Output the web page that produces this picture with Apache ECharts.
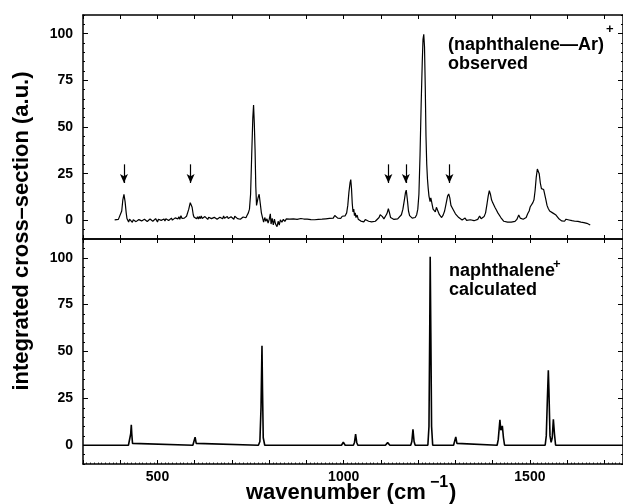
<!DOCTYPE html>
<html>
<head>
<meta charset="utf-8">
<script src="https://cdn.jsdelivr.net/npm/echarts@6/dist/echarts.min.js"></script>
<style>
html,body{margin:0;padding:0;background:#fff;}
#chart{width:623px;height:504px;}
</style>
</head>
<body>
<div id="chart"></div>
<script>
// ---- data ----
const xTickLabels = [500, 1000, 1500];
const yTickLabels = [0, 25, 50, 75, 100];
const arrowPositions = [410, 589, 1120, 1167, 1284];
const arrowFromTo = [30, 20];

// observed (naphthalene-Ar)+ spectrum: [wavenumber, intensity]
const observedSpectrum = [
[385,0.2],[390,-0.3],[395,0.5],[400,1.5],[404,5],[407,11],[410,13.9],[413,10],[416,4],[418,1],
[420,0.2],[422.5,-0.9],[425,0.6],[427.5,-0.4],[430,0.5],[432.5,-1.1],[435,0.3],[437.5,-0.5],[440,0.8],[442.5,-0.7],
[445,0.2],[447.5,-1],[450,0.4],[452.5,-0.6],[455,0.9],[457.5,-0.3],[460,0.5],[462.5,-0.8],[465,0.6],[467.5,-0.2],
[470,0.9],[472.5,-0.6],[475,0.3],[477.5,-0.9],[480,0.7],[482.5,-0.1],[485,0.8],[487.5,-0.5],[490,0.4],[492.5,-0.7],
[495,0.9],[497.5,0],[500,-0.9],[502.5,0.6],[505,-0.3],[507.5,0.9],[510,0],[512.5,1],[515,-0.2],[517.5,0.7],
[520,-0.4],[522.5,0.8],[525,0.1],[527.5,1.1],[530,-0.1],[532.5,0.9],[535,0.3],[537.5,1.2],[540,0.1],[542.5,0.9],
[545,0.4],[547.5,1.3],[550,0.3],[552.5,1.6],[555,0.8],[557.5,1.9],[560,0.6],[563,2.5],[566,1],[569,0.7],
[572,1.2],[575,1.9],[578,2.2],[581,3.2],[584,6],[588,9.5],[590,10],[593,7],[596,3],[598,1.8],
[600,1.5],[602.5,2.6],[605,0.8],[607.5,1.9],[610,0.7],[612.5,2.1],[615,0.9],[617.5,2.4],[620,1],[622.5,1.8],
[625,0.6],[627.5,2],[630,1.1],[632.5,2.2],[635,0.5],[637.5,1.7],[640,1.2],[642.5,2.3],[645,0.9],[647.5,1.8],
[650,0.7],[652.5,1.6],[655,0.9],[657.5,2],[660,0.6],[662.5,1.4],[665,0.3],[667.5,1.7],[670,0.9],[672.5,2],
[675,0.8],[677.5,2.4],[680,1.1],[682.5,1.9],[685,0.8],[687.5,2.1],[690,1],[692.5,1.8],[695,0.6],[697.5,1.9],
[700,1.1],[702.5,1.7],[705,0.6],[707.5,2.2],[710,1.3],[712.5,2],[715,0.9],[717.5,1.9],[720,1.4],[722.5,0.6],
[725,1.5],[727.5,0.9],[730,1.8],[732.5,1.1],[735,2],[737.5,1.4],[740,2.5],[744,4],
[747,6],[750,14],[753,35],[756,55],[758,61.8],[760,52],[762,38],[764,18],[766,8],[768,9],
[770,12],[773,14],[776,9],[779,4],[782,1.5],[785,-1],[788,1.5],[791,-0.5],[794,0.8],[797,-1.5],
[800,0.5],[803,3.5],[805,-2],[808,1],[811,-2.5],[814,0.6],[817,-2],[821,-3.4],[824,-0.5],[827,-2.5],
[830,0.3],[834,-1],[838,0.5],[842,-0.6],[846,0.8],[850,-0.2],[855,0.6],[860,0.1],[865,0.8],[870,0.2],
[875,0.5],[880,0.8],[885,1],[889,1.6],[893,0.7],[897,0.2],[902,0.6],[907,-0.2],[912,0.4],[917,0.8],
[922,0.3],[927,0.9],[932,0.5],[937,1],[942,0.6],[947,1.2],[952,0.8],[957,1.6],[962,1],[967,1.8],
[972,1.2],[976,2.6],[980,2],[984,1.2],[988,1.8],[992,1],[996,2.2],[1000,1.5],[1004,2.4],[1008,4],
[1011,8],[1014,15],[1017,20],[1019,21.8],[1021,17],[1023,9],[1025,4.5],[1027,6],[1029,2.5],[1031,4],
[1033,1.5],[1036,2.8],[1039,0.6],[1042,1.5],[1046,-0.4],[1050,0.6],[1054,-0.8],[1058,0.4],[1063,1.2],[1067,-0.5],
[1071,0.2],[1075,-0.8],[1080,0],[1085,-0.5],[1090,0.5],[1095,1.5],[1098,3],[1101,3.7],[1104,2],[1108,0.8],
[1112,1.5],[1116,3.5],[1120,6.2],[1123,4],[1126,1.5],[1130,0.8],[1135,0.5],[1140,1.2],[1145,0.8],[1150,1.6],
[1155,3],[1159,6],[1163,11],[1166,15],[1168,16.2],[1171,11],[1174,5],[1177,2.5],[1180,1.5],[1184,1.2],
[1188,2],[1192,1.5],[1196,3],[1199,6],[1202,14],[1205,35],[1208,62],[1211,85],[1213,97],[1215,99.7],
[1217,93],[1219,72],[1221,45],[1223,30],[1225,22],[1227,17],[1229,13],[1232,10],[1234,12],[1236,11.5],
[1238,8],[1240,6],[1243,5],[1246,4.5],[1249,7],[1251,7.3],[1254,4.5],[1257,3],[1260,2],[1263,1.5],
[1267,2.8],[1271,5],[1275,9],[1279,13],[1282,14.1],[1285,12],[1288,8],[1292,6.5],[1296,5],[1300,3.5],
[1305,2.5],[1309,1.5],[1313,0.5],[1318,0.2],[1322,0.8],[1326,1.2],[1330,0],[1335,-0.4],[1340,0.3],[1345,-0.6],
[1350,-0.2],[1355,-0.8],[1360,0.5],[1365,2.3],[1369,0.8],[1373,1],[1377,2],[1381,4],[1385,9],[1388,13],
[1391,15.9],[1394,14],[1397,11],[1400,9.5],[1403,9],[1406,7],[1410,5.5],[1414,4],[1418,3],[1422,1.5],
[1426,0.8],[1430,-0.5],[1435,-0.2],[1440,-1],[1445,-0.6],[1450,-1],[1455,-0.4],[1460,-0.6],[1465,0.5],[1470,2.8],
[1474,1.2],[1478,0.2],[1482,0.6],[1486,0.4],[1490,1.5],[1494,3.5],[1498,5],[1501,7.3],[1505,7.8],[1508,9.5],
[1511,11],[1514,16],[1517,23],[1520,27.5],[1522,27.9],[1525,25],[1528,20],[1531,17],[1534,18],[1537,16.5],
[1540,15.5],[1543,11],[1546,8],[1549,6.5],[1553,5],[1557,4.8],[1561,4],[1565,3.8],[1569,3],[1573,2],
[1577,1],[1581,0.2],[1585,-0.3],[1589,0.2],[1593,-0.5],[1597,0.6],[1601,1.4],[1605,0.2],[1609,-0.6],[1613,-0.2],
[1617,-1],[1621,-0.5],[1625,-1.2],[1629,-0.6],[1633,-1.6],[1637,-1],[1641,-1.8],[1645,-1.2],[1649,-2],[1653,-1.6],
[1657,-2.2],[1662,-2.5]
];

// calculated naphthalene+ spectrum: [wavenumber, intensity]
const calculatedSpectrum = [
[300,0],[422,0],[426,1],[428,6],[429.7,10.9],[431,6],[433,1],[437,0],
[595,0],[598,1],[601,4.3],[604,1],[607,0],
[771,0],[775,2],[778,20],[780.6,53],[782,30],[784,4],[788,0],
[994,0],[997,0.8],[999,1.6],[1001,0.8],[1004,0],
[1026,0],[1029,1.5],[1032,5.9],[1035,1.5],[1038,0],
[1112,0],[1115,0.7],[1118,1.4],[1121,0.7],[1124,0],
[1180,0],[1183,2],[1186,8.5],[1189,2],[1192,0],
[1226,0],[1229,10],[1231,60],[1232.3,100.5],[1234,60],[1236,10],[1239,0],
[1295,0],[1298,1],[1301,4.4],[1304,1],[1307,0],
[1412,0],[1415,3],[1419.5,13.5],[1422,8],[1424,7],[1426,10.3],[1429,4],[1432,0],
[1541,0],[1544,5],[1547,25],[1549.5,40],[1551,30],[1554,5],[1557,1.5],[1560,4],[1563,13.9],[1566,6],[1569,0],
[1750,0]
];

// ---- chart ----
const FONT = "'Liberation Sans', Arial, Helvetica, sans-serif";
const BLACK = '#000';
const G = [
  {left: 83, top: 15, width: 541.5, height: 224},
  {left: 83, top: 239, width: 541.5, height: 225}
];

function xAxisDef(grid, position, withLabels) {
  return {
    type: 'value', gridIndex: grid, position: position,
    min: 300, max: 1750, interval: 100,
    axisLine: {show: true, onZero: false, lineStyle: {color: BLACK, width: 1.5}},
    axisTick: {show: true, inside: true, length: 4, lineStyle: {color: BLACK, width: 1}},
    minorTick: withLabels ? {show: true, splitNumber: 10, length: 1.5, lineStyle: {color: BLACK, width: 0.8}} : {show: false},
    axisLabel: withLabels ? {
      show: true, margin: 6, color: BLACK,
      fontFamily: FONT, fontWeight: 'bold', fontSize: 14,
      customValues: xTickLabels,
      formatter: v => String(v)
    } : {show: false},
    splitLine: {show: false}
  };
}
function yMajor(grid, position, withLabels) {
  return {
    type: 'value', gridIndex: grid, position: position,
    min: -10, max: 110,
    axisLine: {show: true, onZero: false, lineStyle: {color: BLACK, width: 1.5}},
    axisTick: {show: true, inside: true, length: 5, customValues: yTickLabels, lineStyle: {color: BLACK, width: 1}},
    axisLabel: withLabels ? {
      show: true, margin: 10, color: BLACK,
      fontFamily: FONT, fontWeight: 'bold', fontSize: 14,
      customValues: yTickLabels,
      formatter: v => String(v)
    } : {show: false},
    splitLine: {show: false}
  };
}
function yMinor(grid, position) {
  return {
    type: 'value', gridIndex: grid, position: position,
    min: -10, max: 110, interval: 5,
    axisLine: {show: false},
    axisTick: {show: true, inside: true, length: 2, lineStyle: {color: BLACK, width: 1}},
    axisLabel: {show: false},
    splitLine: {show: false}
  };
}

const arrowLines = arrowPositions.map(x => [
  {coord: [x, arrowFromTo[0]]},
  {coord: [x, arrowFromTo[1]]}
]);

const option = {
  backgroundColor: '#fff',
  animation: false,
  grid: G.map(g => Object.assign({containLabel: false}, g)),
  xAxis: [
    xAxisDef(0, 'bottom', false),
    xAxisDef(0, 'top', false),
    xAxisDef(1, 'bottom', true),
    xAxisDef(1, 'top', false)
  ],
  yAxis: [
    yMajor(0, 'left', true),
    yMinor(0, 'left'),
    yMajor(0, 'right', false),
    yMinor(0, 'right'),
    yMajor(1, 'left', true),
    yMinor(1, 'left'),
    yMajor(1, 'right', false),
    yMinor(1, 'right')
  ],
  series: [
    {
      name: 'observed', type: 'line', xAxisIndex: 0, yAxisIndex: 0,
      data: observedSpectrum, showSymbol: false, symbol: 'none',
      lineStyle: {color: BLACK, width: 1.2}, silent: true,
      markLine: {
        silent: true, symbol: ['none', 'arrow'], symbolSize: [6, 9],
        label: {show: false},
        lineStyle: {color: BLACK, width: 1.2, type: 'solid'},
        data: arrowLines
      }
    },
    {
      name: 'calculated', type: 'line', xAxisIndex: 2, yAxisIndex: 4,
      data: calculatedSpectrum, showSymbol: false, symbol: 'none',
      lineStyle: {color: BLACK, width: 1.6}, silent: true
    }
  ],
  graphic: [
    {type: 'text', x: 22, y: 231, rotation: Math.PI / 2,
     style: {text: 'integrated cross\u2013section (a.u.)', fill: BLACK,
       font: 'bold 22px ' + FONT, align: 'center', verticalAlign: 'middle'}},
    {type: 'text', x: 246, y: 493,
     style: {text: 'wavenumber (cm', fill: BLACK, font: 'bold 22px ' + FONT, align: 'left', verticalAlign: 'middle'}},
    {type: 'text', x: 430, y: 483,
     style: {text: '\u22121', fill: BLACK, font: 'bold 16px ' + FONT, align: 'left', verticalAlign: 'middle'}},
    {type: 'text', x: 449, y: 493,
     style: {text: ')', fill: BLACK, font: 'bold 22px ' + FONT, align: 'left', verticalAlign: 'middle'}},
    {type: 'text', x: 448, y: 45.5,
     style: {text: '(naphthalene\u2014Ar)', fill: BLACK, font: 'bold 18px ' + FONT, align: 'left', verticalAlign: 'middle'}},
    {type: 'text', x: 606, y: 29,
     style: {text: '+', fill: BLACK, font: 'bold 13px ' + FONT, align: 'left', verticalAlign: 'middle'}},
    {type: 'text', x: 448, y: 64,
     style: {text: 'observed', fill: BLACK, font: 'bold 18px ' + FONT, align: 'left', verticalAlign: 'middle'}},
    {type: 'text', x: 449, y: 271.5,
     style: {text: 'naphthalene', fill: BLACK, font: 'bold 18px ' + FONT, align: 'left', verticalAlign: 'middle'}},
    {type: 'text', x: 553, y: 264,
     style: {text: '+', fill: BLACK, font: 'bold 13px ' + FONT, align: 'left', verticalAlign: 'middle'}},
    {type: 'text', x: 449, y: 290,
     style: {text: 'calculated', fill: BLACK, font: 'bold 18px ' + FONT, align: 'left', verticalAlign: 'middle'}}
  ]
};

const chart = echarts.init(document.getElementById('chart'), null, {renderer: 'canvas'});
chart.setOption(option);
</script>
</body>
</html>
